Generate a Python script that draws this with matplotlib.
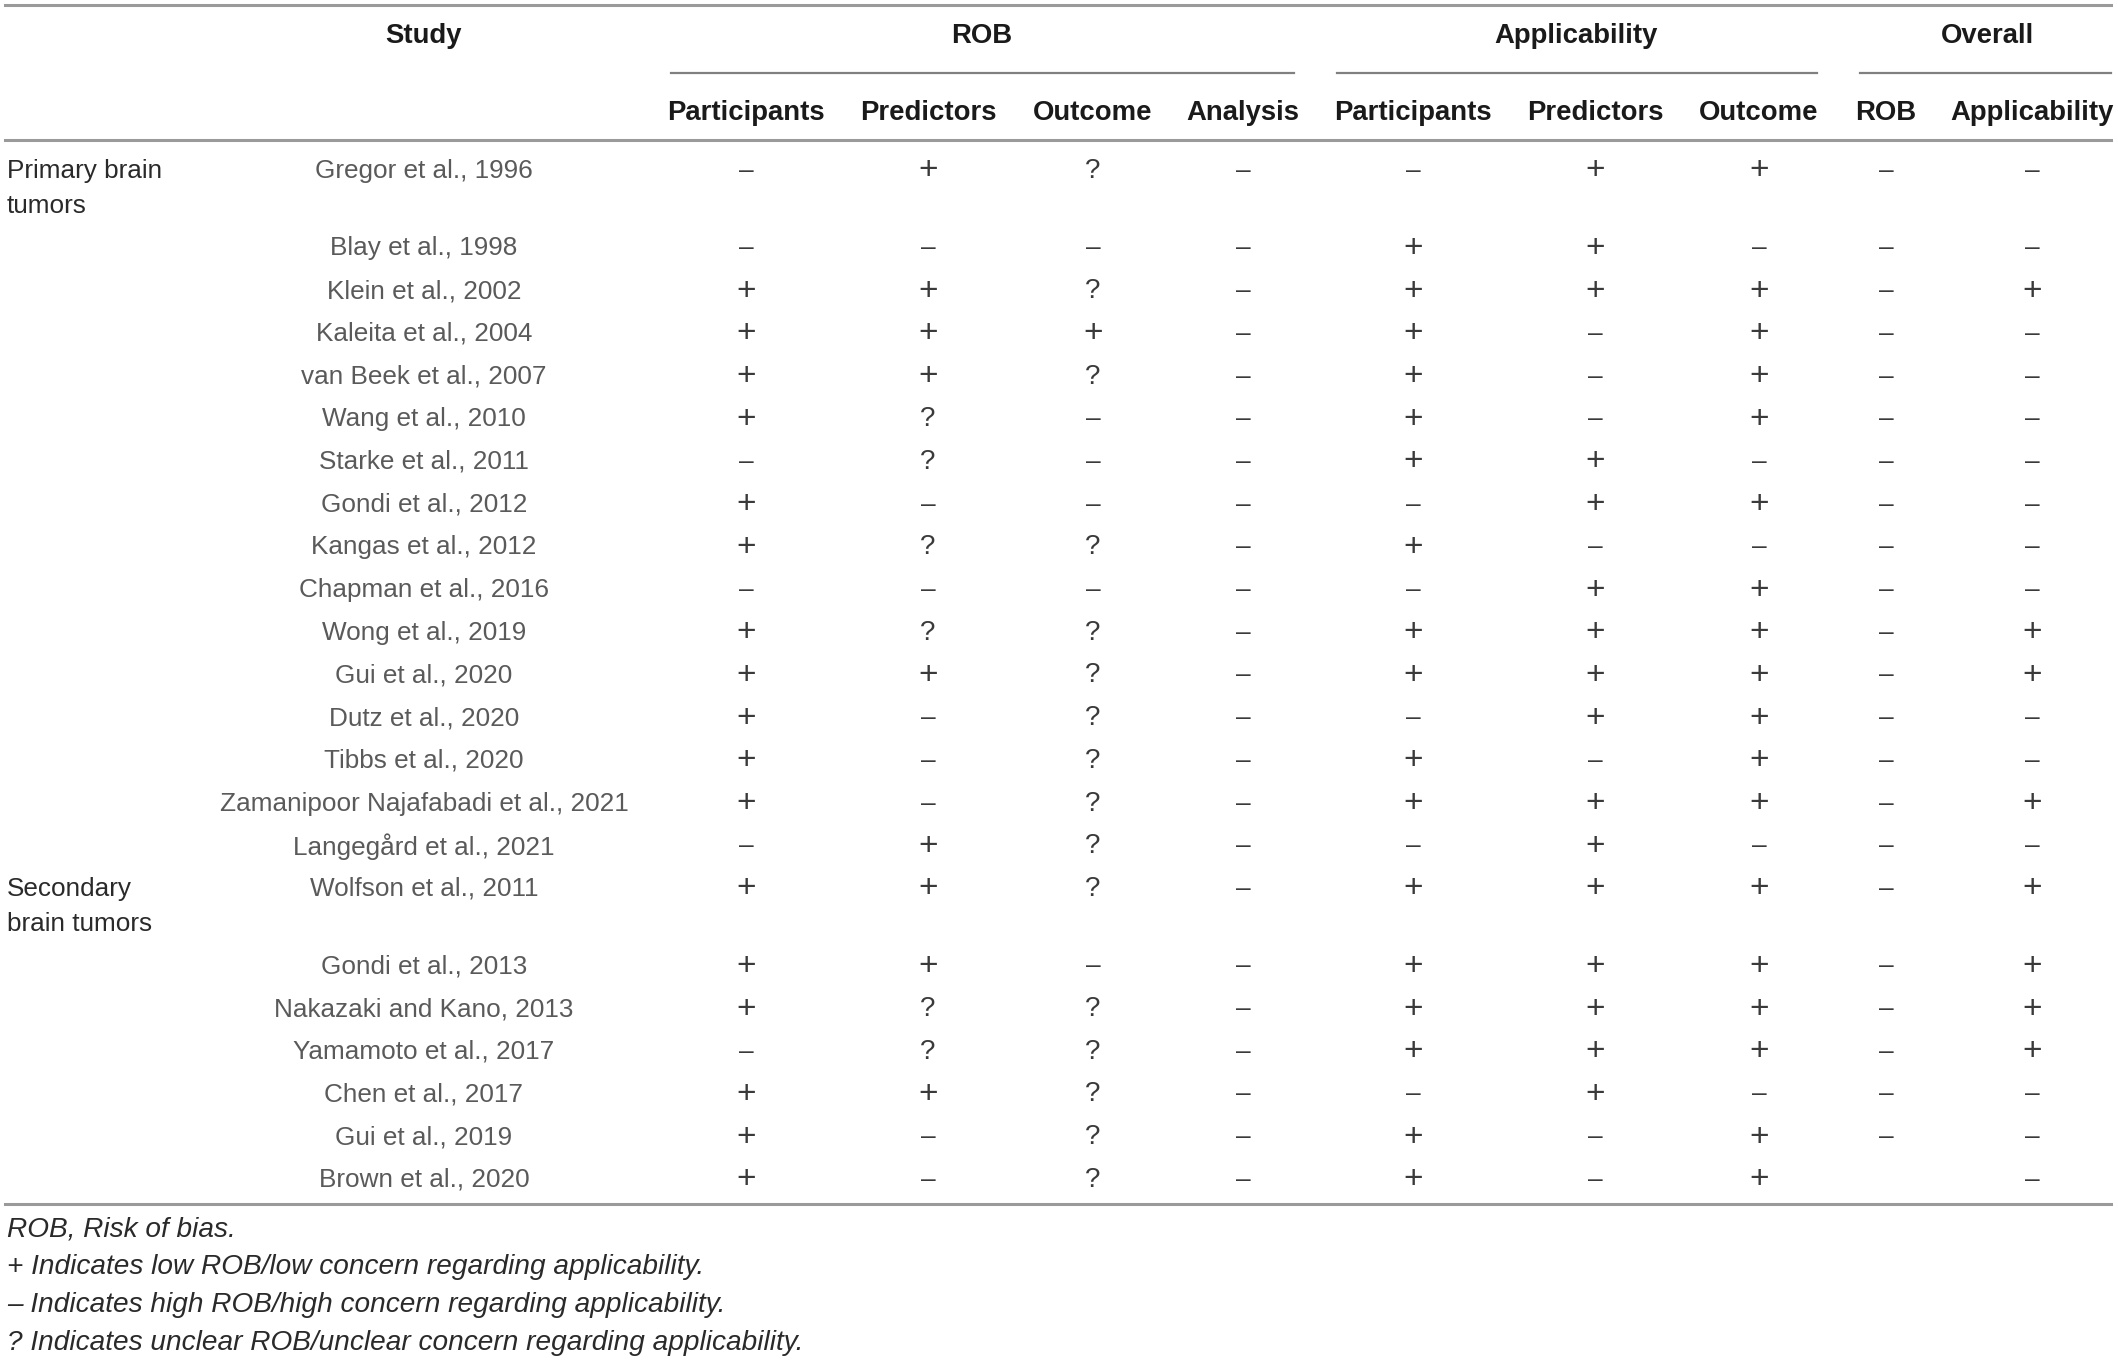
import matplotlib
matplotlib.use('Agg')
import matplotlib.pyplot as plt

plt.rcParams['font.family'] = ['Liberation Sans', 'DejaVu Sans']

# ---- table data ----
studies = [
    "Gregor et al., 1996", "Blay et al., 1998", "Klein et al., 2002",
    "Kaleita et al., 2004", "van Beek et al., 2007", "Wang et al., 2010",
    "Starke et al., 2011", "Gondi et al., 2012", "Kangas et al., 2012",
    "Chapman et al., 2016", "Wong et al., 2019", "Gui et al., 2020",
    "Dutz et al., 2020", "Tibbs et al., 2020",
    "Zamanipoor Najafabadi et al., 2021", "Langegård et al., 2021",
    "Wolfson et al., 2011", "Gondi et al., 2013", "Nakazaki and Kano, 2013",
    "Yamamoto et al., 2017", "Chen et al., 2017", "Gui et al., 2019",
    "Brown et al., 2020",
]
groups = {0: ["Primary brain", "tumors"], 16: ["Secondary", "brain tumors"]}

# one character per study: + low, - high, ? unclear, blank = not given
rob_participants = "--++++-++-+++++-+++-+++"
rob_predictors   = "+-+++??-?-?+---+++??+--"
rob_outcome      = "?-?+?---?-???????-?????"
rob_analysis     = "-" * 23
app_participants = "-++++++-+-++-++-++++-++"
app_predictors   = "+++---++-++++-+++++++--"
app_outcome      = "+-++++-+-++++++-++++-++"
overall_rob      = "-" * 22 + " "
overall_app      = "--+-------++--+-++++---"

columns = [rob_participants, rob_predictors, rob_outcome, rob_analysis,
           app_participants, app_predictors, app_outcome,
           overall_rob, overall_app]
sub_headers = ["Participants", "Predictors", "Outcome", "Analysis",
               "Participants", "Predictors", "Outcome", "ROB", "Applicability"]
top_headers = ["ROB", "Applicability", "Overall"]
footnotes = [
    "ROB, Risk of bias.",
    "+ Indicates low ROB/low concern regarding applicability.",
    "– Indicates high ROB/high concern regarding applicability.",
    "? Indicates unclear ROB/unclear concern regarding applicability.",
]

# ---- layout (pixel coords) ----
W, H = 2118, 1360
col_x = [746, 928, 1093, 1243, 1413, 1595, 1759, 1886, 2032]
study_x = 424
top_x = [982, 1576, 1987]
spans = [(671, 1294), (1337, 1817), (1860, 2111)]
glyph = {"+": "+", "-": "–", "?": "?", " ": ""}
glyph_size = {"+": 24, "-": 19, "?": 20, " ": 19}

fig = plt.figure(figsize=(W / 100, H / 100), dpi=100)
ax = fig.add_axes([0, 0, 1, 1])
ax.set_xlim(0, W)
ax.set_ylim(H, 0)
ax.axis('off')

fs = 18.8
head_kw = dict(fontsize=19.8, fontweight='bold', color='#1a1a1a', ha='center', va='center')

# rules
rule = dict(color='#9a9a9a', lw=2.2)
ax.plot([5, 2111], [5, 5], **rule)
ax.plot([5, 2111], [140, 140], **rule)
ax.plot([5, 2111], [1204, 1204], **rule)
for x0, x1 in spans:
    ax.plot([x0, x1], [73, 73], color='#808080', lw=1.6)

# headers
ax.text(study_x, 36, "Study", **head_kw)
for x, t in zip(top_x, top_headers):
    ax.text(x, 36, t, **head_kw)
for x, t in zip(col_x, sub_headers):
    ax.text(x, 113, t, **head_kw)

# body rows
y = 171
pitch = 42.7
for i, name in enumerate(studies):
    ax.text(study_x, y, name, fontsize=fs, color='#5a5a5a', ha='center', va='center')
    if i in groups:
        for k, line in enumerate(groups[i]):
            ax.text(7, y + k * 35, line, fontsize=fs, color='#2a2a2a',
                    ha='left', va='center')
    for x, col in zip(col_x, columns):
        ax.text(x, y, glyph[col[i]], fontsize=glyph_size[col[i]], color='#3a3a3a',
                ha='center', va='center')
    y += pitch
    if i in groups:
        y += 34.7

# footnotes
for k, t in enumerate(footnotes):
    ax.text(7, 1230 + k * 37.5, t, fontsize=20.2, style='italic', color='#2a2a2a',
            ha='left', va='center')

fig.savefig('out.png', dpi=100)
